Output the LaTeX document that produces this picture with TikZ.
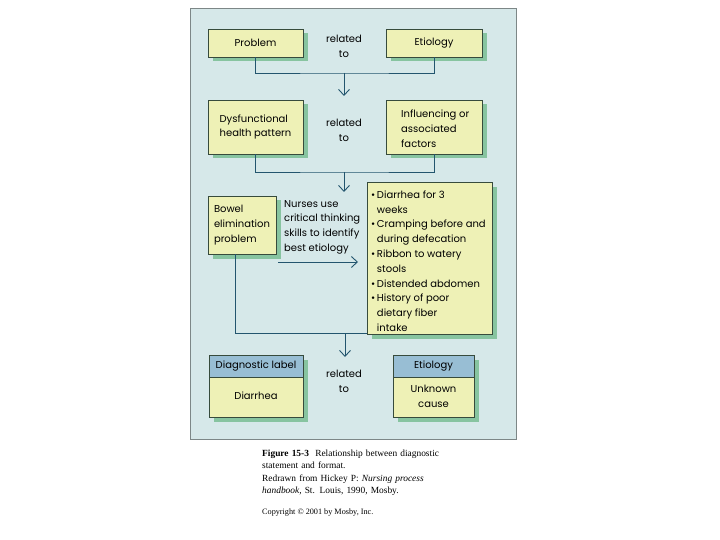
\documentclass[tikz,border=0pt]{standalone}
\usepackage{fontspec}
\setmainfont{Liberation Serif}
\newfontfamily\diafont{Poppins}
\usetikzlibrary{arrows.meta,shadows}
\definecolor{panelbg}{RGB}{214,232,233}
\definecolor{panelline}{RGB}{125,135,135}
\definecolor{boxfill}{RGB}{238,241,182}
\definecolor{boxline}{RGB}{55,75,60}
\definecolor{shadowc}{RGB}{135,196,160}
\definecolor{headfill}{RGB}{152,190,212}
\definecolor{conn}{RGB}{35,85,110}
\tikzset{
  x=1pt,y=-1pt,
  dia/.style={font=\diafont\fontsize{10}{14.8}\selectfont, text=black},
  ybox/.style={dia, draw=boxline, line width=0.8pt, fill=boxfill, rectangle, inner sep=0pt,
     drop shadow={shadow xshift=4.5pt, shadow yshift=-4.5pt, fill=shadowc, opacity=1}},
  hbox/.style={dia, draw=boxline, line width=0.8pt, fill=headfill, rectangle, inner sep=0pt},
  rel/.style={dia, align=center},
  cline/.style={draw=conn, line width=0.9pt},
  carrow/.style={cline, -{Straight Barb[length=6pt,width=11pt,line width=0.9pt]}},
}
\begin{document}
\begin{tikzpicture}
\useasboundingbox (0,0) rectangle (720,540);
\fill[white] (0,0) rectangle (720,540);
\node[draw=panelline, fill=panelbg, line width=0.8pt, minimum width=326pt, minimum height=431pt, inner sep=0pt] (panel) at (353,223.5) {};

% Row 1
\node[ybox, minimum width=95pt, minimum height=28pt] (prob) at (255.5,43) {Problem};
\node[ybox, minimum width=96pt, minimum height=28pt] (etio) at (434,43) {Etiology};
\node[rel] (rel1) at (344,46) {related\\to};
\coordinate (c1) at (344,73);
\coordinate (a1) at (344,96);
\draw[cline] (prob.south) |- (c1) -| (etio.south);
\draw[carrow] (c1) -- (a1);

% Row 2
\node[ybox, minimum width=95pt, minimum height=54pt, align=left] (dys) at (255.5,127) {Dysfunctional\\health pattern};
\node[ybox, minimum width=96pt, minimum height=54pt] (infl) at (434,127) {};
\node[dia, align=left, anchor=west, inner sep=0pt] (infltext) at (401,128.5) {Influencing or\\associated\\factors};
\node[rel] (rel2) at (344,130) {related\\to};
\coordinate (c2) at (344,172);
\coordinate (a2) at (344,192);
\draw[cline] (dys.south) |- (c2) -| (infl.south);
\draw[carrow] (c2) -- (a2);

% Row 3
\node[ybox, minimum width=68pt, minimum height=58pt, align=left, text width=56pt] (bowel) at (242,225) {Bowel\\elimination\\problem};
\node[ybox, minimum width=125pt, minimum height=152pt, anchor=north] (bul) at (429.5,182) {};
\node[dia, anchor=north west, align=left, inner sep=0pt] (bultext) at (371,190.5) {%
\textbullet\,Diarrhea for 3\\
\hphantom{\textbullet\,}weeks\\
\textbullet\,Cramping before and\\
\hphantom{\textbullet\,}during defecation\\
\textbullet\,Ribbon to watery\\
\hphantom{\textbullet\,}stools\\
\textbullet\,Distended abdomen\\
\textbullet\,History of poor\\
\hphantom{\textbullet\,}dietary fiber\\
\hphantom{\textbullet\,}intake};
\node[dia, anchor=north west, align=left, inner sep=0pt] (nurse) at (284,200) {Nurses use\\critical thinking\\skills to identify\\best etiology};
\coordinate (h1) at (278,262);
\coordinate (h2) at (358,262);
\draw[carrow] (h1) -- (h2);
\coordinate (b1) at (235,333);
\coordinate (b2) at (367,333);
\coordinate (c3) at (345,333);
\coordinate (a3) at (345,357);
\draw[cline] ([xshift=-7pt]bowel.south) -- (b1) -- (b2);
\draw[carrow] (c3) -- (a3);

% Row 4
\node[ybox, minimum width=94pt, minimum height=62pt, anchor=north] (diag) at (256,355) {};
\node[hbox, minimum width=94pt, minimum height=22pt, anchor=north] (diaghead) at (diag.north) {Diagnostic label};
\node[dia] (diar) at (256,396) {Diarrhea};
\node[ybox, minimum width=81pt, minimum height=62pt, anchor=north] (etio2) at (433.5,355) {};
\node[hbox, minimum width=81pt, minimum height=22pt, anchor=north] (etiohead) at (etio2.north) {Etiology};
\node[dia, align=center] (unk) at (433.5,396.5) {Unknown\\cause};
\node[rel] (rel3) at (344,381.5) {related\\to};

% Caption
\node[anchor=north west, align=left, inner sep=0pt, font=\fontsize{9.4}{12.2}\selectfont, text width=220pt] (cap) at (262,450) {%
\textbf{Figure 15-3}\ \ Relationship between diagnostic\\
statement and format.\\
Redrawn from Hickey P: \textit{Nursing process}\\
\textit{handbook,} St. Louis, 1990, Mosby.};
\node[anchor=west, inner sep=0pt, font=\fontsize{8.2}{10}\selectfont] (copy) at (262,513) {Copyright \textcopyright\ 2001 by Mosby, Inc.};
\end{tikzpicture}
\end{document}
